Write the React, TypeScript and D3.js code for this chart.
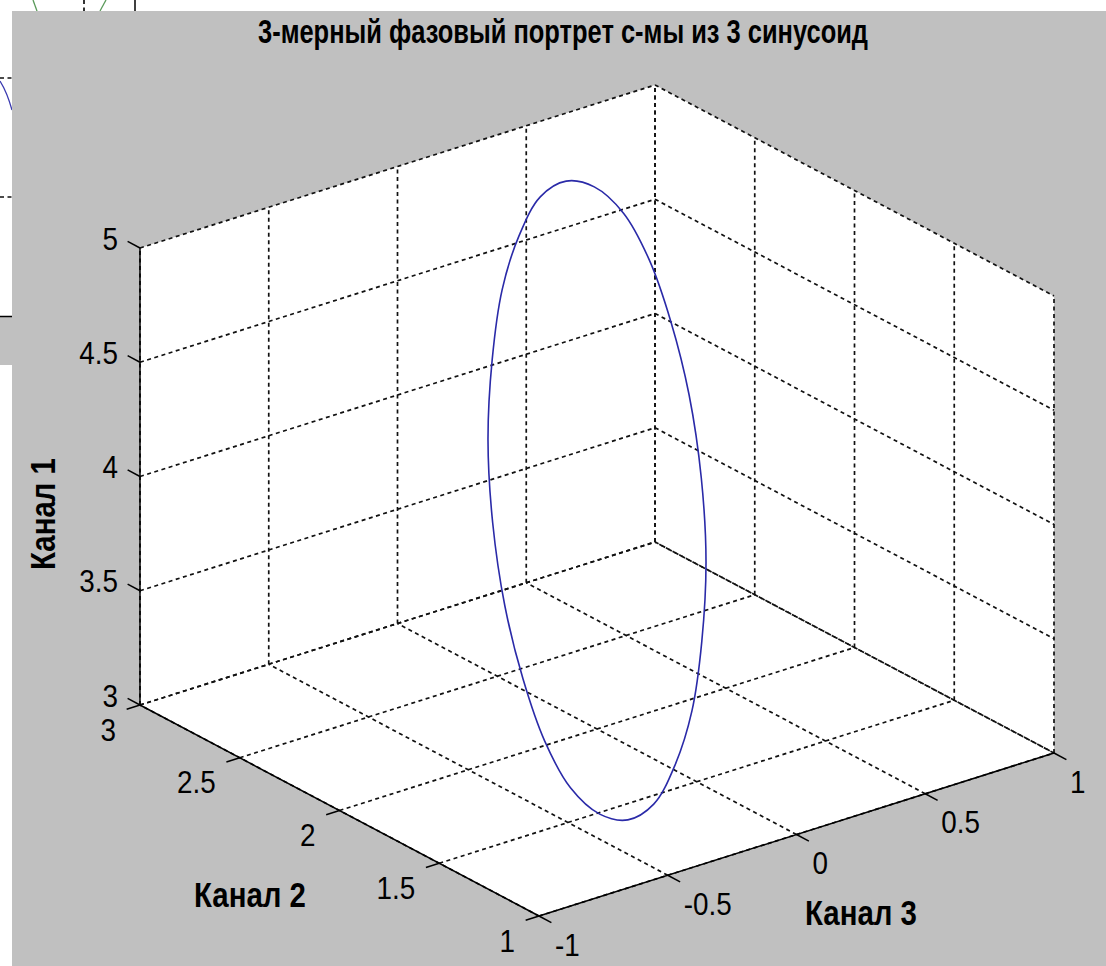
import React from 'react';
import * as d3 from 'd3';

// Figure text
const title = '3-мерный фазовый портрет с-мы из 3 синусоид';
const xName = 'Канал 3';
const yName = 'Канал 2';
const zName = 'Канал 1';

// Axis ticks (x = Канал 3, y = Канал 2, z = Канал 1)
const xTicks = [-1, -0.5, 0, 0.5, 1];
const yTicks = [1, 1.5, 2, 2.5, 3];
const zTicks = [3, 3.5, 4, 4.5, 5];

// Samples of the three channels over one period (15° steps)
const channel3 = [0, 0.26, 0.5, 0.71, 0.87, 0.97, 1, 0.97, 0.87, 0.71, 0.5, 0.26, 0, -0.26, -0.5, -0.71, -0.87, -0.97, -1, -0.97, -0.87, -0.71, -0.5, -0.26];
const channel2 = [2.39, 2.62, 2.8, 2.93, 2.99, 2.99, 2.92, 2.79, 2.6, 2.37, 2.12, 1.86, 1.61, 1.38, 1.2, 1.07, 1.01, 1.01, 1.08, 1.21, 1.4, 1.63, 1.88, 2.14];
const channel1 = [4.98, 4.95, 4.85, 4.69, 4.49, 4.25, 4, 3.75, 3.51, 3.31, 3.15, 3.05, 3.02, 3.05, 3.15, 3.31, 3.51, 3.75, 4, 4.25, 4.49, 4.69, 4.85, 4.95];

const W = 1106;
const H = 966;

// Screen placement of the plot box: corner (xmin, ymin, zmin) and the edge vectors
const ORIGIN: [number, number] = [539, 916];
const EX: [number, number] = [515, -163];
const EY: [number, number] = [-399, -211];
const EZ: [number, number] = [0, -457];

const FONT = '"Liberation Sans", Arial, Helvetica, sans-serif';
const TICK_SIZE = 32;
const TICK_SX = 0.87;
const LABEL_SIZE = 35;
const LABEL_SX = 0.84;
const TICK_LEN = 14;

const sx = d3.scaleLinear().domain([xTicks[0], xTicks[xTicks.length - 1]]).range([0, 1]);
const sy = d3.scaleLinear().domain([yTicks[0], yTicks[yTicks.length - 1]]).range([0, 1]);
const sz = d3.scaleLinear().domain([zTicks[0], zTicks[zTicks.length - 1]]).range([0, 1]);

type P3 = [number, number, number];
type P2 = [number, number];

function project([x, y, z]: P3): P2 {
  const u = sx(x), v = sy(y), w = sz(z);
  return [
    ORIGIN[0] + u * EX[0] + v * EY[0] + w * EZ[0],
    ORIGIN[1] + u * EX[1] + v * EY[1] + w * EZ[1],
  ];
}

function unit(v: P2): P2 {
  const l = Math.hypot(v[0], v[1]);
  return [v[0] / l, v[1] / l];
}

const x0 = xTicks[0], x1 = xTicks[xTicks.length - 1];
const y0 = yTicks[0], y1 = yTicks[yTicks.length - 1];
const z0 = zTicks[0], z1 = zTicks[zTicks.length - 1];

function Label({ x, y, text, anchor, size, sxScale, bold, rotate }: {
  x: number; y: number; text: string; anchor: 'start' | 'middle' | 'end';
  size: number; sxScale: number; bold?: boolean; rotate?: number;
}) {
  return (
    <g transform={`translate(${x},${y})${rotate ? ` rotate(${rotate})` : ''} scale(${sxScale},1)`}>
      <text
        textAnchor={anchor}
        fontFamily={FONT}
        fontSize={size}
        fontWeight={bold ? 'bold' : 'normal'}
        fill="#000"
      >
        {text}
      </text>
    </g>
  );
}

export default function App() {
  // Grid lines on the floor and the two back walls
  const grid: [P3, P3][] = [];
  xTicks.forEach((xv) => {
    grid.push([[xv, y0, z0], [xv, y1, z0]]);
    grid.push([[xv, y1, z0], [xv, y1, z1]]);
  });
  yTicks.forEach((yv) => {
    grid.push([[x0, yv, z0], [x1, yv, z0]]);
    grid.push([[x1, yv, z0], [x1, yv, z1]]);
  });
  zTicks.forEach((zv) => {
    grid.push([[x0, y1, zv], [x1, y1, zv]]);
    grid.push([[x1, y1, zv], [x1, y0, zv]]);
  });

  const axes: [P3, P3][] = [
    [[x0, y1, z0], [x0, y1, z1]],
    [[x0, y1, z0], [x0, y0, z0]],
    [[x0, y0, z0], [x1, y0, z0]],
  ];

  const hull: P3[] = [
    [x0, y1, z1], [x1, y1, z1], [x1, y0, z1], [x1, y0, z0], [x0, y0, z0], [x0, y1, z0],
  ];

  const uX = unit(EX);
  const uY = unit(EY);

  const curvePts: P2[] = channel3.map((xv, i) => project([xv, channel2[i], channel1[i]]));
  const linePath = d3.line<P2>().curve(d3.curveCatmullRomClosed.alpha(0.5))(curvePts) || '';

  const pt = (p: P2) => `${p[0]},${p[1]}`;

  return (
    <svg
      width={W}
      height={H}
      viewBox={`0 0 ${W} ${H}`}
      style={{ position: 'absolute', left: 0, top: 0, display: 'block' }}
    >
      {/* window behind the figure */}
      <rect x={0} y={0} width={W} height={H} fill="#fff" />
      <line x1={0} x2={12} y1={78} y2={78} stroke="#111" strokeWidth={1.7} strokeDasharray="4,3.5" />
      <line x1={0} x2={12} y1={197} y2={197} stroke="#111" strokeWidth={1.7} strokeDasharray="4,3.5" />
      <path d="M0,81 Q7,92 12,110" fill="none" stroke="#3a3ab0" strokeWidth={1.3} />
      <path d="M33,0 L37,11" fill="none" stroke="#5a9a5a" strokeWidth={1.3} />
      <path d="M106,0 L100,11" fill="none" stroke="#5a9a5a" strokeWidth={1.3} />
      <line x1={84} x2={84} y1={0} y2={11} stroke="#111" strokeWidth={1.7} strokeDasharray="4,3.5" />
      <line x1={135} x2={135} y1={0} y2={11} stroke="#000" strokeWidth={1.5} />
      <rect x={0} y={316} width={12} height={49} fill="#c0c0c0" />
      <line x1={0} x2={12} y1={316.5} y2={316.5} stroke="#000" strokeWidth={1.5} />

      {/* figure */}
      <rect x={12} y={11} width={W - 12} height={H - 11} fill="#c0c0c0" />

      {/* plot box */}
      <polygon points={hull.map((p) => pt(project(p))).join(' ')} fill="#fff" />

      <g stroke="#111" strokeWidth={1.7} strokeDasharray="4,3.5" fill="none">
        {grid.map(([a, b], i) => {
          const pa = project(a), pb = project(b);
          return <line key={i} x1={pa[0]} y1={pa[1]} x2={pb[0]} y2={pb[1]} />;
        })}
      </g>

      <g stroke="#000" strokeWidth={1.5} fill="none">
        {axes.map(([a, b], i) => {
          const pa = project(a), pb = project(b);
          return <line key={i} x1={pa[0]} y1={pa[1]} x2={pb[0]} y2={pb[1]} />;
        })}
        {zTicks.map((zv) => {
          const p = project([x0, y1, zv]);
          return <line key={`zt${zv}`} x1={p[0]} y1={p[1]} x2={p[0] + uY[0] * TICK_LEN} y2={p[1] + uY[1] * TICK_LEN} />;
        })}
        {yTicks.map((yv) => {
          const p = project([x0, yv, z0]);
          return <line key={`yt${yv}`} x1={p[0]} y1={p[1]} x2={p[0] - uX[0] * TICK_LEN} y2={p[1] - uX[1] * TICK_LEN} />;
        })}
        {xTicks.map((xv) => {
          const p = project([xv, y0, z0]);
          return <line key={`xt${xv}`} x1={p[0]} y1={p[1]} x2={p[0] - uY[0] * TICK_LEN} y2={p[1] - uY[1] * TICK_LEN} />;
        })}
      </g>

      {/* phase trajectory */}
      <path d={linePath} fill="none" stroke="#2a2aa8" strokeWidth={1.6} />

      {/* tick labels */}
      {zTicks.map((zv) => {
        const p = project([x0, y1, zv]);
        return <Label key={`zl${zv}`} x={p[0] - 22} y={p[1] + 1.5} text={String(zv)} anchor="end" size={TICK_SIZE} sxScale={TICK_SX} />;
      })}
      {yTicks.map((yv) => {
        const p = project([x0, yv, z0]);
        return <Label key={`yl${yv}`} x={p[0] - 24} y={p[1] + 35.5} text={String(yv)} anchor="end" size={TICK_SIZE} sxScale={TICK_SX} />;
      })}
      {xTicks.map((xv) => {
        const p = project([xv, y0, z0]);
        return <Label key={`xl${xv}`} x={p[0] + 16} y={p[1] + 39.5} text={String(xv)} anchor="start" size={TICK_SIZE} sxScale={TICK_SX} />;
      })}

      {/* axis names */}
      <Label x={250} y={907} text={yName} anchor="middle" size={LABEL_SIZE} sxScale={LABEL_SX} bold />
      <Label x={861} y={925} text={xName} anchor="middle" size={LABEL_SIZE} sxScale={LABEL_SX} bold />
      <Label x={55} y={514} text={zName} anchor="middle" size={LABEL_SIZE} sxScale={LABEL_SX} bold rotate={-90} />

      {/* title */}
      <text
        x={563}
        y={43}
        textAnchor="middle"
        fontFamily={FONT}
        fontSize={33}
        fontWeight="bold"
        textLength={610}
        lengthAdjust="spacingAndGlyphs"
        fill="#000"
      >
        {title}
      </text>
    </svg>
  );
}
